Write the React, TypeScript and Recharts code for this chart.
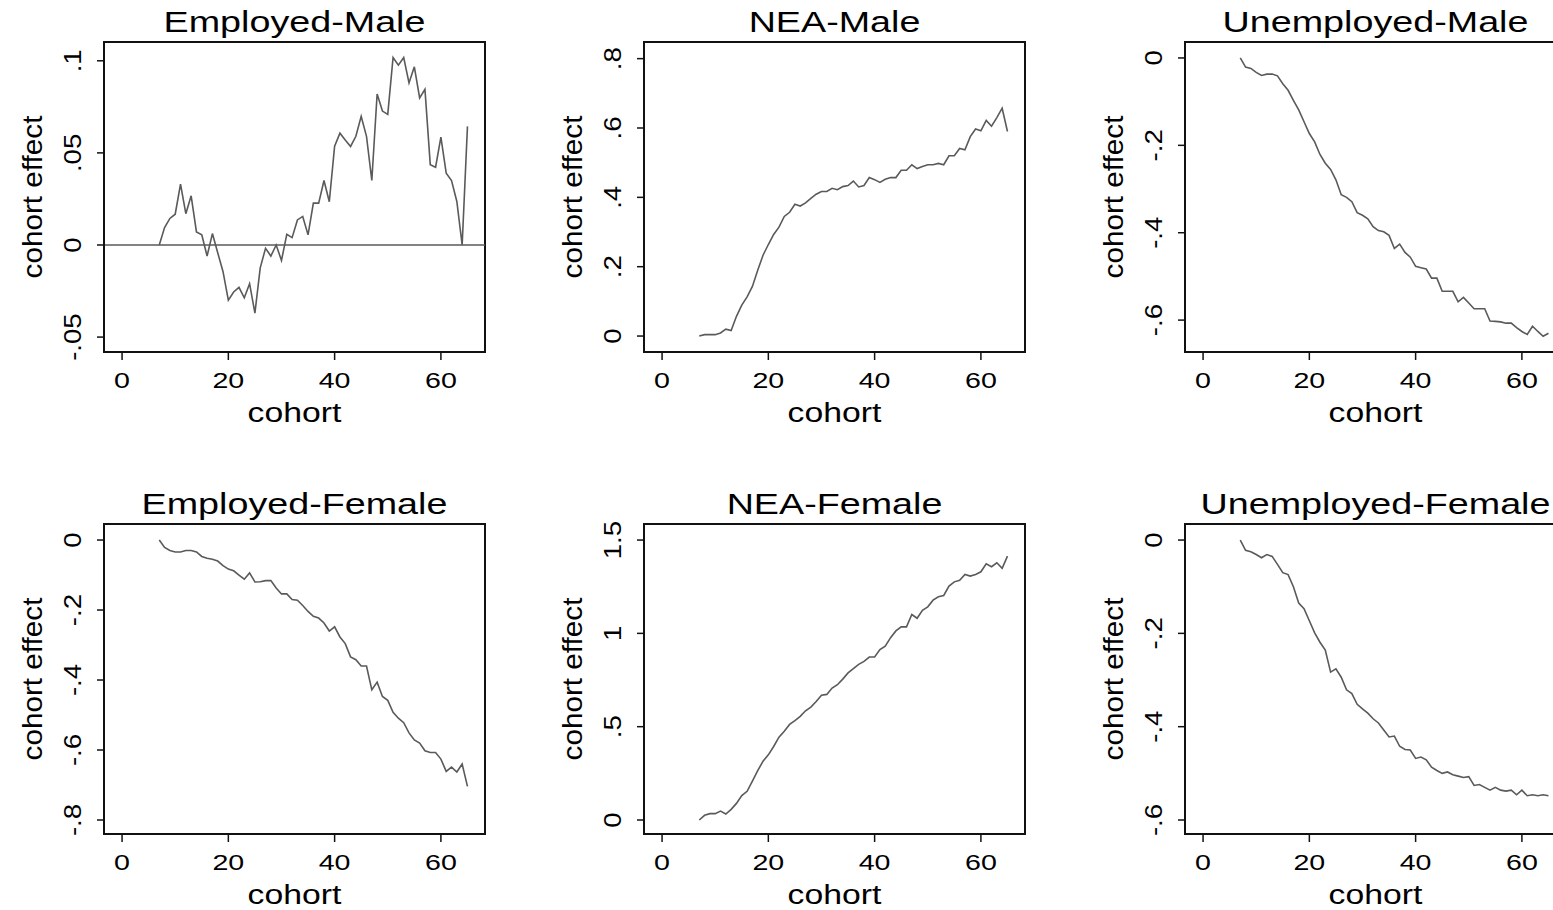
import React from 'react';
import { LineChart, Line, XAxis, YAxis, ReferenceLine, ReferenceArea } from 'recharts';

const cohorts = [
    7, 8, 9, 10, 11, 12, 13, 14, 15, 16, 17, 18, 19, 20, 21, 22, 23, 24, 25, 26,
    27, 28, 29, 30, 31, 32, 33, 34, 35, 36, 37, 38, 39, 40, 41, 42, 43, 44, 45, 46,
    47, 48, 49, 50, 51, 52, 53, 54, 55, 56, 57, 58, 59, 60, 61, 62, 63, 64, 65,
];

const employedMale = [
    0, 0.0095, 0.0144, 0.0167, 0.033, 0.017, 0.0267, 0.0071, 0.0055, -0.006,
    0.0062, -0.0042, -0.0145, -0.03, -0.0255, -0.023, -0.0287, -0.021, -0.037, -0.0124,
    -0.0018, -0.006, 0, -0.0084, 0.0058, 0.004, 0.0136, 0.0155, 0.0055, 0.0227,
    0.0227, 0.035, 0.0235, 0.0536, 0.0607, 0.057, 0.0535, 0.059, 0.0698, 0.059,
    0.035, 0.082, 0.0727, 0.0709, 0.1018, 0.0976, 0.1018, 0.088, 0.0967, 0.0798,
    0.0845, 0.0436, 0.0422, 0.0585, 0.039, 0.035, 0.0236, 0, 0.0644,
];

const neaMale = [
    0, 0.004, 0.004, 0.004, 0.009, 0.02, 0.016, 0.057, 0.089, 0.113,
    0.143, 0.19, 0.233, 0.264, 0.293, 0.314, 0.345, 0.357, 0.38, 0.375,
    0.384, 0.397, 0.409, 0.417, 0.417, 0.426, 0.422, 0.431, 0.434, 0.447,
    0.43, 0.434, 0.457, 0.451, 0.443, 0.452, 0.457, 0.457, 0.478, 0.478,
    0.494, 0.483, 0.489, 0.494, 0.494, 0.498, 0.494, 0.52, 0.52, 0.541,
    0.537, 0.575, 0.597, 0.592, 0.622, 0.605, 0.63, 0.657, 0.59,
];

const unemployedMale = [
    0, -0.021, -0.024, -0.033, -0.04, -0.037, -0.037, -0.041, -0.059, -0.074,
    -0.097, -0.119, -0.146, -0.173, -0.192, -0.221, -0.241, -0.255, -0.279, -0.313,
    -0.319, -0.329, -0.354, -0.36, -0.368, -0.386, -0.395, -0.398, -0.406, -0.436,
    -0.426, -0.445, -0.456, -0.477, -0.48, -0.483, -0.504, -0.504, -0.534, -0.534,
    -0.534, -0.558, -0.548, -0.561, -0.574, -0.574, -0.574, -0.602, -0.603, -0.604,
    -0.607, -0.607, -0.617, -0.626, -0.633, -0.614, -0.626, -0.637, -0.63,
];

const employedFemale = [
    0, -0.021, -0.03, -0.034, -0.034, -0.03, -0.03, -0.034, -0.047, -0.052,
    -0.055, -0.06, -0.073, -0.083, -0.088, -0.1, -0.112, -0.094, -0.12, -0.119,
    -0.116, -0.116, -0.137, -0.154, -0.154, -0.17, -0.172, -0.187, -0.204, -0.218,
    -0.223, -0.237, -0.26, -0.248, -0.277, -0.296, -0.334, -0.342, -0.36, -0.36,
    -0.428, -0.406, -0.447, -0.458, -0.492, -0.509, -0.522, -0.551, -0.571, -0.58,
    -0.602, -0.607, -0.607, -0.626, -0.661, -0.649, -0.663, -0.64, -0.704,
];

const neaFemale = [
    0, 0.025, 0.034, 0.034, 0.048, 0.032, 0.057, 0.089, 0.131, 0.154,
    0.208, 0.265, 0.315, 0.349, 0.394, 0.444, 0.476, 0.512, 0.533, 0.555,
    0.585, 0.605, 0.635, 0.668, 0.673, 0.707, 0.725, 0.755, 0.788, 0.811,
    0.834, 0.85, 0.873, 0.873, 0.913, 0.931, 0.977, 1.013, 1.035, 1.035,
    1.101, 1.081, 1.124, 1.142, 1.178, 1.196, 1.203, 1.253, 1.276, 1.285,
    1.316, 1.307, 1.316, 1.33, 1.373, 1.357, 1.378, 1.348, 1.414,
];

const unemployedFemale = [
    0, -0.022, -0.025, -0.031, -0.038, -0.031, -0.035, -0.052, -0.07, -0.074,
    -0.1, -0.135, -0.147, -0.173, -0.199, -0.219, -0.236, -0.283, -0.276, -0.294,
    -0.321, -0.329, -0.352, -0.362, -0.371, -0.383, -0.392, -0.407, -0.422, -0.42,
    -0.442, -0.449, -0.45, -0.468, -0.465, -0.471, -0.487, -0.494, -0.5, -0.497,
    -0.503, -0.506, -0.509, -0.507, -0.526, -0.524, -0.53, -0.536, -0.53, -0.536,
    -0.538, -0.536, -0.546, -0.536, -0.548, -0.546, -0.548, -0.546, -0.548,
];

const xTicks = [0, 20, 40, 60];
const xDomain = [-3.4, 68.3];

const ticksEmployedMale = [-0.05, 0, 0.05, 0.1];
const labelsEmployedMale = ['-.05', '0', '.05', '.1'];
const ticksNeaMale = [0, 0.2, 0.4, 0.6, 0.8];
const labelsNeaMale = ['0', '.2', '.4', '.6', '.8'];
const ticksUnemployedMale = [-0.6, -0.4, -0.2, 0];
const labelsUnemployedMale = ['-.6', '-.4', '-.2', '0'];
const ticksEmployedFemale = [-0.8, -0.6, -0.4, -0.2, 0];
const labelsEmployedFemale = ['-.8', '-.6', '-.4', '-.2', '0'];
const ticksNeaFemale = [0, 0.5, 1, 1.5];
const labelsNeaFemale = ['0', '.5', '1', '1.5'];
const ticksUnemployedFemale = [-0.6, -0.4, -0.2, 0];
const labelsUnemployedFemale = ['-.6', '-.4', '-.2', '0'];

const FONT = '"Liberation Sans", Arial, sans-serif';
const INK = '#111';
const LINE = '#5a5a5a';

interface PanelProps {
    title: string;
    values: number[];
    yDomain: number[];
    yTicks: number[];
    yLabels: string[];
    zeroLine?: boolean;
    left: number;
    top: number;
}

const Panel = ({ title, values, yDomain, yTicks, yLabels, zeroLine, left, top }: PanelProps) => {
    const data = cohorts.map((c, i) => ({ cohort: c, value: values[i] }));

    const XTick = ({ x, y, payload }: any) => (
        <text
            transform={`translate(${x},${y + 28}) scale(1.3,1)`}
            textAnchor="middle"
            fontSize={22}
            fontFamily={FONT}
            fill="#000"
        >
            {payload.value}
        </text>
    );

    // vertical tick labels, Stata style
    const YTick = ({ x, y, payload }: any) => (
        <text
            transform={`translate(${x - 16},${y}) rotate(-90) scale(1.15,1)`}
            textAnchor="middle"
            fontSize={24}
            fontFamily={FONT}
            fill="#000"
        >
            {yLabels[yTicks.indexOf(payload.value)]}
        </text>
    );

    const xTitle = (props: any) => {
        const vb = props.viewBox;
        return (
            <text
                transform={`translate(${vb.x + vb.width / 2},${vb.y + 70}) scale(1.25,1)`}
                textAnchor="middle"
                fontSize={27}
                fontFamily={FONT}
                fill="#000"
            >
                cohort
            </text>
        );
    };

    const yTitle = (props: any) => {
        const vb = props.viewBox;
        return (
            <text
                transform={`translate(${vb.x + 42},${vb.y + vb.height / 2}) rotate(-90) scale(1.1,1)`}
                textAnchor="middle"
                fontSize={27}
                fontFamily={FONT}
                fill="#000"
            >
                cohort effect
            </text>
        );
    };

    const boxTitle = (props: any) => {
        const vb = props.viewBox;
        return (
            <text
                transform={`translate(${vb.x + vb.width / 2},${vb.y - 10}) scale(1.3,1)`}
                textAnchor="middle"
                fontSize={29}
                fontFamily={FONT}
                fill="#000"
            >
                {title}
            </text>
        );
    };

    return (
        <div style={{ position: 'absolute', left, top }}>
            <LineChart
                width={540}
                height={470}
                data={data}
                margin={{ top: 42, right: 55, bottom: 18, left: 0 }}
            >
                <XAxis
                    dataKey="cohort"
                    type="number"
                    domain={xDomain}
                    allowDataOverflow
                    ticks={xTicks}
                    tick={XTick}
                    tickSize={8}
                    tickMargin={0}
                    height={100}
                    axisLine={{ stroke: INK, strokeWidth: 2 }}
                    tickLine={{ stroke: INK, strokeWidth: 1.5 }}
                    label={xTitle}
                />
                <YAxis
                    type="number"
                    domain={yDomain}
                    allowDataOverflow
                    ticks={yTicks}
                    tick={YTick}
                    tickSize={7}
                    tickMargin={0}
                    width={104}
                    axisLine={{ stroke: INK, strokeWidth: 2 }}
                    tickLine={{ stroke: INK, strokeWidth: 1.5 }}
                    label={yTitle}
                />
                <ReferenceArea
                    x1={xDomain[0]}
                    x2={xDomain[1]}
                    y1={yDomain[0]}
                    y2={yDomain[1]}
                    fill="none"
                    stroke={INK}
                    strokeWidth={2}
                    label={boxTitle}
                />
                {zeroLine && <ReferenceLine y={0} stroke={LINE} strokeWidth={1.3} />}
                <Line
                    type="linear"
                    dataKey="value"
                    stroke={LINE}
                    strokeWidth={1.6}
                    dot={false}
                    isAnimationActive={false}
                />
            </LineChart>
        </div>
    );
};

const App = () => {
    return (
        <div
            style={{
                position: 'fixed',
                left: 0,
                top: 0,
                width: 1553,
                height: 910,
                overflow: 'hidden',
                background: '#fff',
            }}
        >
            <Panel title="Employed-Male" values={employedMale} yDomain={[-0.0581, 0.1102]}
                yTicks={ticksEmployedMale} yLabels={labelsEmployedMale} zeroLine left={0} top={0} />
            <Panel title="NEA-Male" values={neaMale} yDomain={[-0.046, 0.848]}
                yTicks={ticksNeaMale} yLabels={labelsNeaMale} left={540} top={0} />
            <Panel title="Unemployed-Male" values={unemployedMale} yDomain={[-0.673, 0.0365]}
                yTicks={ticksUnemployedMale} yLabels={labelsUnemployedMale} left={1081} top={0} />
            <Panel title="Employed-Female" values={employedFemale} yDomain={[-0.84, 0.0458]}
                yTicks={ticksEmployedFemale} yLabels={labelsEmployedFemale} left={0} top={482} />
            <Panel title="NEA-Female" values={neaFemale} yDomain={[-0.075, 1.586]}
                yTicks={ticksNeaFemale} yLabels={labelsNeaFemale} left={540} top={482} />
            <Panel title="Unemployed-Female" values={unemployedFemale} yDomain={[-0.63, 0.0344]}
                yTicks={ticksUnemployedFemale} yLabels={labelsUnemployedFemale} left={1081} top={482} />
        </div>
    );
};

export default App;
